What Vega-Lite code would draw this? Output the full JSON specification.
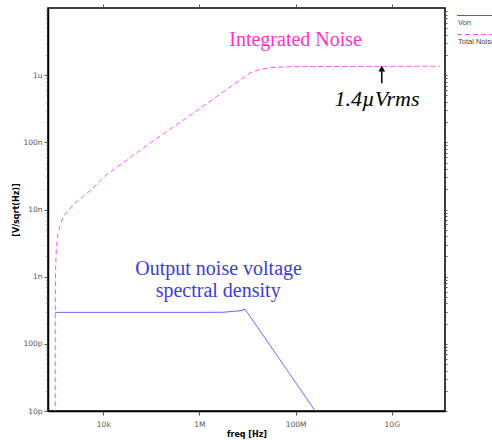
{
  "$schema": "https://vega.github.io/schema/vega-lite/v6.json",
  "width": 397,
  "height": 403,
  "autosize": {"type": "none"},
  "padding": {"left": 48, "top": 8, "right": 47, "bottom": 29},
  "background": "white",
  "config": {
    "view": {"stroke": "black", "strokeWidth": 1.5},
    "axis": {"labelFont": "DejaVu Sans", "labelFontSize": 7.5, "labelColor": "#555", "tickColor": "#555", "domainColor": "black", "domainWidth": 1.5, "grid": false, "titleFont": "DejaVu Sans", "titleFontSize": 8, "titleFontWeight": "bold", "titleColor": "black"},
    "legend": {"labelFont": "Liberation Sans", "labelFontSize": 7.5, "labelColor": "#444"}
  },
  "datasets": {
    "curves": [
      {"series": "Von", "f": 1000, "v": 2.94e-10},
      {"series": "Von", "f": 1000000, "v": 2.94e-10},
      {"series": "Von", "f": 3100000, "v": 2.95e-10},
      {"series": "Von", "f": 7000000, "v": 3.11e-10},
      {"series": "Von", "f": 8900000, "v": 3.26e-10},
      {"series": "Von", "f": 10200000, "v": 2.85e-10},
      {"series": "Von", "f": 275000000, "v": 9.3e-12},
      {"series": "Total Noise", "f": 1000, "v": 1e-12},
      {"series": "Total Noise", "f": 1002, "v": 4e-10},
      {"series": "Total Noise", "f": 1010, "v": 9.5e-10},
      {"series": "Total Noise", "f": 1025, "v": 1.5e-9},
      {"series": "Total Noise", "f": 1052, "v": 2.5e-9},
      {"series": "Total Noise", "f": 1143, "v": 4.45e-9},
      {"series": "Total Noise", "f": 1452, "v": 7.8e-9},
      {"series": "Total Noise", "f": 2540, "v": 1.24e-8},
      {"series": "Total Noise", "f": 5540, "v": 1.95e-8},
      {"series": "Total Noise", "f": 11400, "v": 3.25e-8},
      {"series": "Total Noise", "f": 100000, "v": 1e-7},
      {"series": "Total Noise", "f": 1000000, "v": 3.16e-7},
      {"series": "Total Noise", "f": 11300000, "v": 1.08e-6},
      {"series": "Total Noise", "f": 18200000, "v": 1.22e-6},
      {"series": "Total Noise", "f": 33900000, "v": 1.3e-6},
      {"series": "Total Noise", "f": 76000000, "v": 1.34e-6},
      {"series": "Total Noise", "f": 100000000000, "v": 1.36e-6}
    ]
  },
  "resolve": {"axis": {"x": "independent", "y": "independent"}},
  "layer": [
    {
      "data": {"name": "curves"},
      "mark": {"type": "line", "strokeWidth": 1, "clip": true},
      "encoding": {
        "x": {"field": "f", "type": "quantitative", "scale": {"type": "log", "domain": [708, 128000000000], "nice": false},
              "axis": {"orient": "bottom", "values": [10000, 1000000, 100000000, 10000000000], "format": "~s", "title": "freq [Hz]", "tickSize": 4, "labelPadding": 5, "titlePadding": 3}},
        "y": {"field": "v", "type": "quantitative", "scale": {"type": "log", "domain": [1e-11, 1e-5], "nice": false},
              "axis": {"orient": "left", "title": "[V/sqrt(Hz)]", "titlePadding": 2,
                "values": [1e-11,2e-11,3e-11,4e-11,5e-11,6e-11,7e-11,8e-11,9e-11,1e-10,2e-10,3e-10,4e-10,5e-10,6e-10,7e-10,8e-10,9e-10,1e-9,2e-9,3e-9,4e-9,5e-9,6e-9,7e-9,8e-9,9e-9,1e-8,2e-8,3e-8,4e-8,5e-8,6e-8,7e-8,8e-8,9e-8,1e-7,2e-7,3e-7,4e-7,5e-7,6e-7,7e-7,8e-7,9e-7,1e-6,2e-6,3e-6,4e-6,5e-6,6e-6,7e-6,8e-6,9e-6],
                "labelExpr": "abs(log(datum.value)/LN10 - round(log(datum.value)/LN10)) < 0.01 ? replace(format(datum.value, '~s'), 'µ', 'u') : ''",
                "tickSize": {"condition": {"test": "abs(log(datum.value)/LN10 - round(log(datum.value)/LN10)) < 0.01", "value": 4}, "value": 2},
                "labelPadding": 2}},
        "color": {"field": "series", "type": "nominal", "scale": {"domain": ["Von", "Total Noise"], "range": ["#5050ff", "#ff50ff"]},
                  "legend": {"title": null, "orient": "right", "offset": -2, "padding": 0, "symbolType": "M0,-0.35H4.4", "symbolSize": 400, "symbolStrokeWidth": 1.2, "labelOffset": -10, "labelBaseline": "top", "rowPadding": 0}},
        "strokeDash": {"field": "series", "type": "nominal", "scale": {"domain": ["Von", "Total Noise"], "range": [[1, 0], [5, 3]]}}
      }
    },
    {
      "data": {"values": [{"f": 1e8, "v": 2.7e-6, "t": "Integrated Noise"}]},
      "mark": {"type": "text", "font": "Liberation Serif", "fontSize": 20, "color": "#ff33cc", "align": "center", "baseline": "alphabetic"},
      "encoding": {
        "x": {"field": "f", "type": "quantitative", "axis": {"orient": "top", "values": [10000, 1000000, 100000000, 10000000000], "labels": false, "title": null, "tickSize": 4, "domain": false}},
        "y": {"field": "v", "type": "quantitative", "axis": {"orient": "right", "title": null, "labels": false, "domain": false, "tickSize": 2,
                "values": [1e-11,2e-11,3e-11,4e-11,5e-11,6e-11,7e-11,8e-11,9e-11,1e-10,2e-10,3e-10,4e-10,5e-10,6e-10,7e-10,8e-10,9e-10,1e-9,2e-9,3e-9,4e-9,5e-9,6e-9,7e-9,8e-9,9e-9,1e-8,2e-8,3e-8,4e-8,5e-8,6e-8,7e-8,8e-8,9e-8,1e-7,2e-7,3e-7,4e-7,5e-7,6e-7,7e-7,8e-7,9e-7,1e-6,2e-6,3e-6,4e-6,5e-6,6e-6,7e-6,8e-6,9e-6]}},
        "text": {"field": "t"}
      }
    },
    {
      "data": {"values": [{"f": 4.94e9, "v": 3.46e-7, "t": "1.4µVrms"}]},
      "mark": {"type": "text", "font": "Liberation Serif", "fontSize": 22, "fontStyle": "italic", "color": "black", "align": "center", "baseline": "alphabetic"},
      "encoding": {
        "x": {"field": "f", "type": "quantitative", "axis": null},
        "y": {"field": "v", "type": "quantitative", "axis": null},
        "text": {"field": "t"}
      }
    },
    {
      "data": {"values": [{"f": 2.5e6, "v": 1.06e-9, "t": "Output noise voltage"}, {"f": 2.45e6, "v": 5.0e-10, "t": "spectral density"}]},
      "mark": {"type": "text", "font": "Liberation Serif", "fontSize": 20, "color": "#3c3cd8", "align": "center", "baseline": "alphabetic"},
      "encoding": {
        "x": {"field": "f", "type": "quantitative", "axis": null},
        "y": {"field": "v", "type": "quantitative", "axis": null},
        "text": {"field": "t"}
      }
    },
    {
      "data": {"values": [{"f": 6.2e9, "v": 7.6e-7, "v2": 1.18e-6}]},
      "mark": {"type": "rule", "color": "black", "strokeWidth": 1.5},
      "encoding": {
        "x": {"field": "f", "type": "quantitative", "axis": null},
        "y": {"field": "v", "type": "quantitative", "axis": null},
        "y2": {"field": "v2"}
      }
    },
    {
      "data": {"values": [{"f": 6.2e9, "v": 1.25e-6}]},
      "mark": {"type": "point", "shape": "triangle-up", "filled": true, "color": "black", "size": 45, "opacity": 1},
      "encoding": {
        "x": {"field": "f", "type": "quantitative", "axis": null},
        "y": {"field": "v", "type": "quantitative", "axis": null}
      }
    }
  ]
}
